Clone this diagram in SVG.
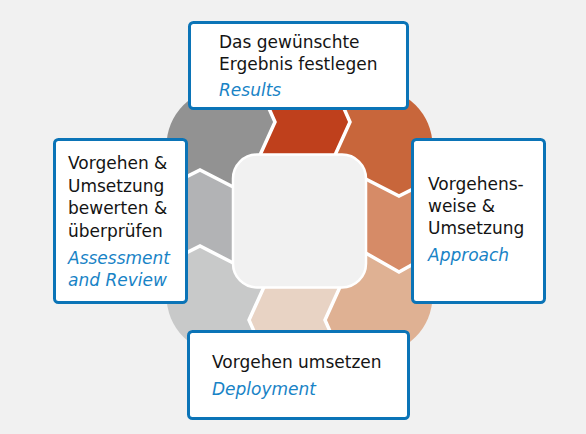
<svg xmlns="http://www.w3.org/2000/svg" width="586" height="434" viewBox="0 0 586 434">
<style>
.box{fill:#ffffff;stroke:#0b74b7;stroke-width:3}
.t{font-family:"DejaVu Sans","Liberation Sans",sans-serif;font-size:17px;fill:#141414}
.e{font-family:"DejaVu Sans","Liberation Sans",sans-serif;font-size:17px;font-style:italic;fill:#1883c6}
.sep{fill:none;stroke:#ffffff;stroke-width:3.5;stroke-linejoin:miter}
</style>
<defs>
<clipPath id="ring"><rect x="166.5" y="88" width="266" height="266" rx="58" ry="58"/></clipPath>
</defs>
<rect x="0" y="0" width="586" height="434" fill="#f1f1f1"/>
<g id="cycle" clip-path="url(#ring)">
<polygon fill="#bf401c" points="255.5,165 275,122 255.5,78 255.5,60 330.5,60 330.5,78 350,122 330.5,165 299.5,221"/>
<polygon fill="#c8663b" points="330.5,165 350,122 330.5,78 330.5,60 460,60 460,174 443,174 399,196 356,174 299.5,221"/>
<polygon fill="#d68b67" points="356,174 399,196 443,174 460,174 460,248 443,248 399,272 356,248 299.5,221"/>
<polygon fill="#dfb193" points="356,248 399,272 443,248 460,248 460,380 344.5,380 344.5,364 325,320 344.5,277 299.5,221"/>
<polygon fill="#e8d3c4" points="344.5,277 325,320 344.5,364 344.5,380 268.5,380 268.5,364 249,320 268.5,277 299.5,221"/>
<polygon fill="#c8c9c9" points="268.5,277 249,320 268.5,364 268.5,380 140,380 140,268 156,268 200,246 243,268 299.5,221"/>
<polygon fill="#b2b3b5" points="243,268 200,246 156,268 140,268 140,192 156,192 200,170 243,192 299.5,221"/>
<polygon fill="#929292" points="243,192 200,170 156,192 140,192 140,60 255.5,60 255.5,78 275,122 255.5,165 299.5,221"/>
<g id="connectors">
<polyline class="sep" points="255.5,165 275,122 255.5,78"/>
<polyline class="sep" points="330.5,165 350,122 330.5,78"/>
<polyline class="sep" points="356,174 399,196 443,174"/>
<polyline class="sep" points="356,247.5 399,272 443,247.5"/>
<polyline class="sep" points="344.5,277 325,320 344.5,364"/>
<polyline class="sep" points="268.5,277 249,320 268.5,364"/>
<polyline class="sep" points="243,268 200,246 156,268"/>
<polyline class="sep" points="243,192 200,170 156,192"/>
</g>
</g>
<rect id="hub" x="233" y="154.5" width="133" height="133" rx="24" ry="24" fill="#f1f1f1" stroke="#ffffff" stroke-width="2.5"/>
<g id="results">
<rect class="box" x="189.5" y="22.5" width="218" height="86" rx="4"/>
<text class="t" x="219" y="47.5">Das gewünschte</text>
<text class="t" x="219" y="69.5">Ergebnis festlegen</text>
<text class="e" x="219" y="96">Results</text>
</g>
<g id="approach">
<rect class="box" x="412.5" y="139.5" width="132" height="163" rx="4"/>
<text class="t" x="428" y="190">Vorgehens-</text>
<text class="t" x="428" y="212">weise &amp;</text>
<text class="t" x="428" y="234">Umsetzung</text>
<text class="e" x="428" y="261">Approach</text>
</g>
<g id="deployment">
<rect class="box" x="188.5" y="331.5" width="220" height="87" rx="4"/>
<text class="t" x="212" y="368">Vorgehen umsetzen</text>
<text class="e" x="212" y="395">Deployment</text>
</g>
<g id="assessment">
<rect class="box" x="54.5" y="139.5" width="132" height="163" rx="4"/>
<text class="t" x="68" y="168.5">Vorgehen &amp;</text>
<text class="t" x="68" y="191.5">Umsetzung</text>
<text class="t" x="68" y="214">bewerten &amp;</text>
<text class="t" x="68" y="236.5">überprüfen</text>
<text class="e" x="68" y="263.5">Assessment</text>
<text class="e" x="68" y="285.5">and Review</text>
</g>
</svg>
